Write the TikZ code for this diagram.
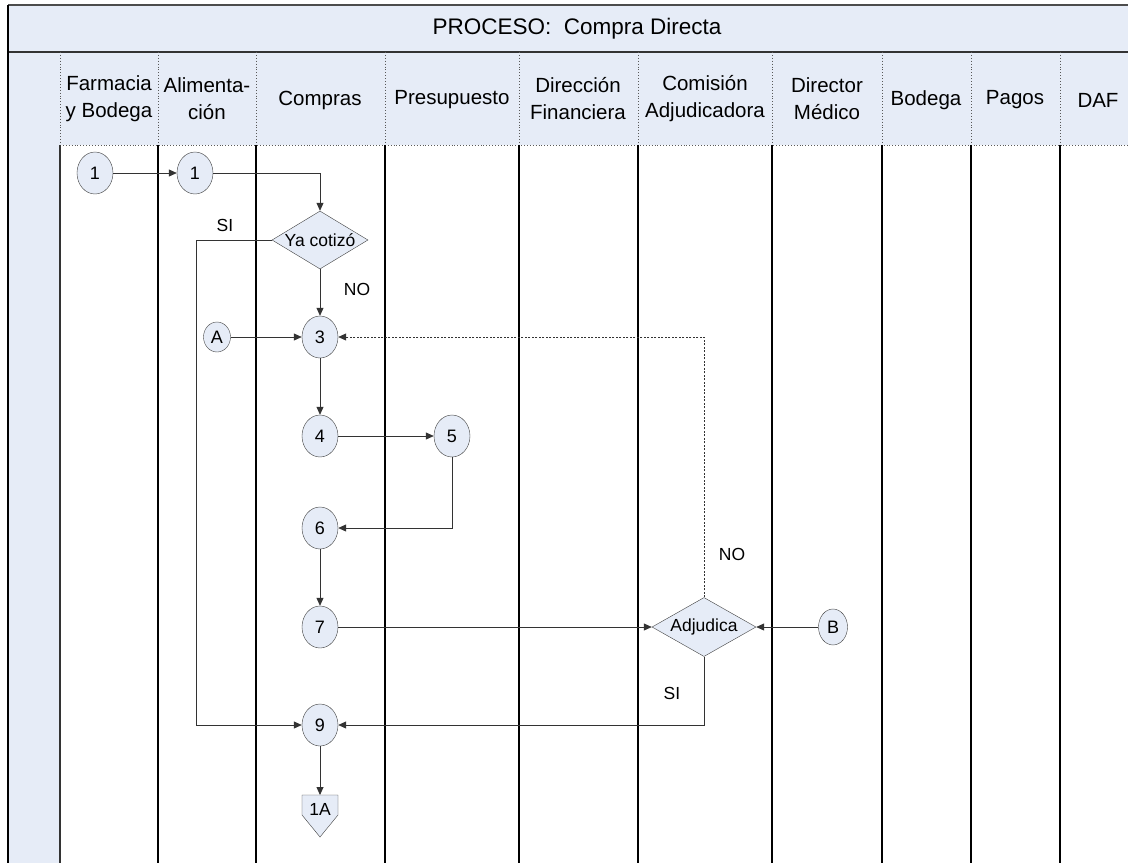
\documentclass[tikz,border=0pt]{standalone}
\usepackage{fontspec}
\setmainfont{Liberation Sans}
\usetikzlibrary{shapes.geometric,arrows.meta,calc}
\definecolor{lb}{HTML}{E6ECF7}
\begin{document}
\begin{tikzpicture}[x=1pt,y=-1pt,
  conn/.style={ellipse, draw=black!75, fill=lb, minimum width=36, minimum height=42, inner sep=0pt, font=\fontsize{18}{21}\selectfont},
  smallconn/.style={conn, minimum width=27, minimum height=30},
  dec/.style={diamond, draw=black!75, fill=lb, inner sep=0pt, aspect=1.7, font=\fontsize{17.5}{20}\selectfont},
  flow/.style={draw=black!80, line width=0.8, -{Triangle[length=8pt,width=7pt]}},
  lbl/.style={font=\fontsize{17.5}{20}\selectfont},
  hdr/.style={align=center, font=\fontsize{20.5}{27}\selectfont},
  lane/.style={line width=1.2, black},
  hsep/.style={dotted, line width=0.9, black!65},
]
\useasboundingbox (0,0) rectangle (1128,863);
\fill[white] (0,0) rectangle (1128,863);
% title bar and header
\fill[lb] (8,5) rectangle (1128,52);
\fill[lb] (8,52) rectangle (60,863);
\fill[lb] (60,52) rectangle (1128,145);
\draw[line width=1.5, black!70] (8,5) -- (1128,5);
\draw[line width=1.5, black!80] (8,52) -- (1128,52);
\draw[line width=1.8, black] (8,5) -- (8,863);
\node[font=\fontsize{22.5}{27}\selectfont] (title) at (577,29) {PROCESO:\ \ Compra Directa};
% header separators
\foreach \x in {60,158,256,385,519,638,772,882,971,1060}
  \draw[hsep] (\x,52) -- (\x,145);
\draw[hsep] (60,145) -- (1128,145);
% lanes
\draw[line width=1.6, black!80] (60,145) -- (60,863);
\foreach \x in {158,256,385,519,638,772,882,971,1060}
  \draw[lane] (\x,145) -- (\x,863);
% header texts
\node[hdr] (h1) at (109,99) {Farmacia\\y Bodega};
\node[hdr] (h2) at (207,99) {Alimenta-\\ción};
\node[hdr] (h3) at (320,100) {Compras};
\node[hdr] (h4) at (452,100) {Presupuesto};
\node[hdr] (h5) at (578,99) {Dirección\\Financiera};
\node[hdr] (h6) at (705,99) {Comisión\\Adjudicadora};
\node[hdr] (h7) at (827,99) {Director\\Médico};
\node[hdr] (h8) at (926,100) {Bodega};
\node[hdr] (h9) at (1015,100) {Pagos};
\node[hdr] (h10) at (1098,100) {DAF};
% nodes
\node[conn] (c1a) at (95,173) {1};
\node[conn] (c1b) at (195,173) {1};
\node[dec, minimum width=96, minimum height=58] (yc) at (320,240) {Ya cotizó};
\node[conn] (c3) at (320,337) {3};
\node[smallconn] (nA) at (217,337) {A};
\node[conn] (c4) at (320,436) {4};
\node[conn] (c5) at (452,436) {5};
\node[conn] (c6) at (320,528) {6};
\node[conn] (c7) at (320,627) {7};
\node[dec, minimum width=104, minimum height=59] (adj) at (704,627) {Adjudica};
\node[smallconn, minimum width=29, minimum height=36] (nB) at (833,627) {B};
\node[conn] (c9) at (320,725) {9};
\filldraw[draw=black!75, fill=lb] (302,795) -- (338,795) -- (338,815) -- (320,837) -- (302,815) -- cycle;
\coordinate (oatop) at (320,795);
\node[lbl] (oa) at (320,809) {1A};
% labels
\node[lbl] (lsi1) at (225,225) {SI};
\node[lbl] (lno1) at (357,289) {NO};
\node[lbl] (lno2) at (732,554) {NO};
\node[lbl] (lsi2) at (672,693) {SI};
% connectors
\draw[flow] (c1a) -- (c1b);
\draw[flow] (c1b.east) -| (yc.north);
\draw[flow] (yc.west) -- ++(-75,0) |- (c9.west);
\draw[flow] (yc.south) -- (c3.north);
\draw[flow] (nA) -- (c3);
\draw[flow, dash pattern=on 2pt off 1.5pt] (adj.north) |- (c3.east);
\draw[flow] (c3) -- (c4);
\draw[flow] (c4) -- (c5);
\draw[flow] (c5.south) |- (c6.east);
\draw[flow] (c6) -- (c7);
\draw[flow] (c7) -- (adj.west);
\draw[flow] (nB) -- (adj.east);
\draw[flow] (adj.south) |- (c9.east);
\draw[flow] (c9) -- (oatop);
\end{tikzpicture}
\end{document}
